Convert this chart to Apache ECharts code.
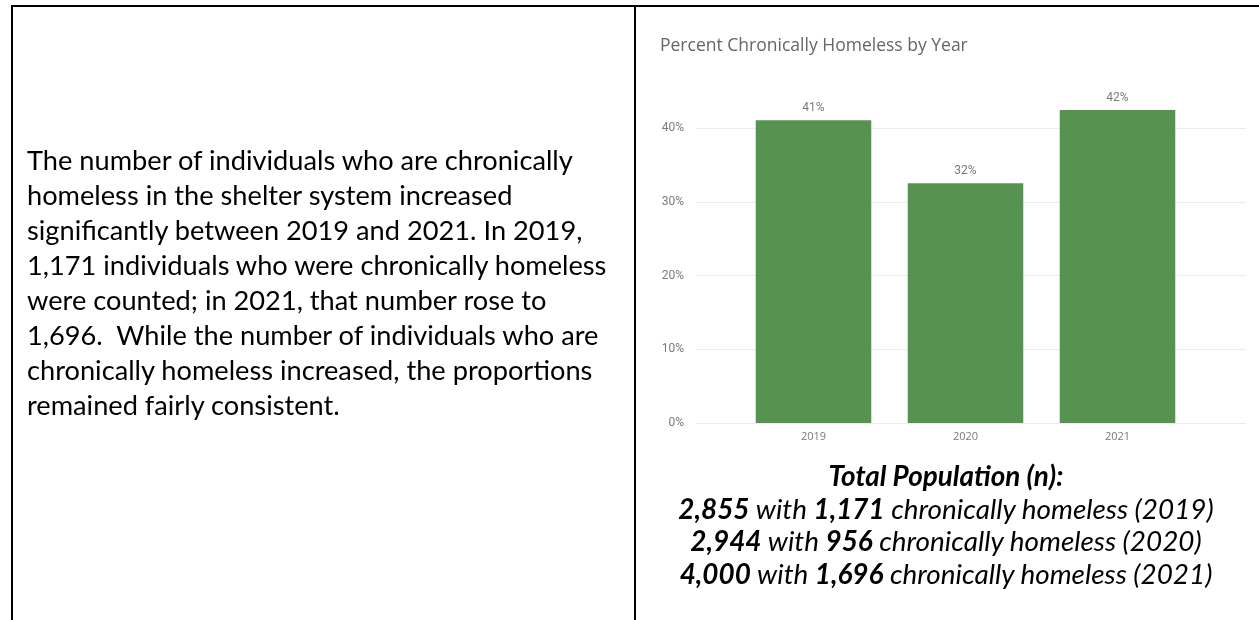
<!DOCTYPE html>
<html>
<head>
<meta charset="utf-8">
<script src="https://cdn.jsdelivr.net/npm/echarts@6/dist/echarts.min.js"></script>
<style>
  html, body { margin: 0; padding: 0; background: #fff; }
  #page { position: relative; width: 1259px; height: 620px; overflow: hidden; background: #fff; }
  #chart { position: absolute; left: 0; top: 0; width: 1259px; height: 620px; }
  .rule { position: absolute; background: #000; }
  #story { position: absolute; left: 27px; top: 142px; color: #000;
           font-family: Lato, "Open Sans", sans-serif; line-height: 35px; white-space: nowrap; }
  #caption { position: absolute; left: 636px; width: 620px; top: 459px; color: #000; text-align: center;
             font-family: Lato, "Open Sans", sans-serif; font-style: italic; line-height: 32.5px; white-space: nowrap; }
  #caption b { font-weight: 700; }
  .measure { display: inline-block; white-space: nowrap; }
</style>
</head>
<body>
<div id="page">
  <div id="chart"></div>
  <div class="rule" style="left:11px; top:5px; width:1248px; height:2px;"></div>
  <div class="rule" style="left:11px; top:5px; width:2px; height:615px;"></div>
  <div class="rule" style="left:634px; top:5px; width:2px; height:615px;"></div>
  <div id="story"></div>
  <div id="caption"></div>
</div>
<script>
// Shelter counts and share of individuals who are chronically homeless
const years = ['2019', '2020', '2021'];
const pctChronic = [41.02, 32.47, 42.40];
const totalPopulation = [2855, 2944, 4000];
const chronicCount = [1171, 956, 1696];

const chartTitle = 'Percent Chronically Homeless by Year';
const captionHeading = 'Total Population (n):';
const storyLines = [
  'The number of individuals who are chronically',
  'homeless in the shelter system increased',
  'significantly between 2019 and 2021. In 2019,',
  '1,171 individuals who were chronically homeless',
  'were counted; in 2021, that number rose to',
  '1,696.  While the number of individuals who are',
  'chronically homeless increased, the proportions',
  'remained fairly consistent.'
];

const fmt = n => n.toLocaleString('en-US');

// Size a block's font so that a sample element reaches the wanted width
function fitFont(sample, targetWidth) {
  sample.style.fontSize = '100px';
  const w = sample.getBoundingClientRect().width;
  return 100 * targetWidth / w;
}

// Font size that gives a canvas-drawn string the wanted width
function fitCanvasFont(text, family, targetWidth) {
  const ctx = document.createElement('canvas').getContext('2d');
  ctx.font = '100px ' + family;
  return 100 * targetWidth / ctx.measureText(text).width;
}

// Narrative text in the left cell
const story = document.getElementById('story');
storyLines.forEach(t => {
  const d = document.createElement('div');
  d.textContent = t.replace(/  /g, '\u00a0 ');
  story.appendChild(d);
});
const storySample = document.createElement('span');
storySample.className = 'measure';
storySample.textContent = storyLines[0];
story.appendChild(storySample);
const storySize = fitFont(storySample, 546);
story.removeChild(storySample);
story.style.fontSize = storySize + 'px';

// Population caption under the chart
const caption = document.getElementById('caption');
const head = document.createElement('div');
head.innerHTML = '<b>' + captionHeading + '</b>';
caption.appendChild(head);
const capLines = years.map((y, i) => {
  const d = document.createElement('div');
  d.innerHTML = '<b>' + fmt(totalPopulation[i]) + '</b> with <b>' + fmt(chronicCount[i]) +
                '</b> chronically homeless (' + y + ')';
  caption.appendChild(d);
  return d;
});
const capSample = document.createElement('span');
capSample.className = 'measure';
capSample.innerHTML = capLines[2].innerHTML;
caption.appendChild(capSample);
const capSize = fitFont(capSample, 533);
caption.removeChild(capSample);
caption.style.fontSize = capSize + 'px';

// Bar chart
const titleFamily = '"Open Sans", sans-serif';
const titleSize = fitCanvasFont(chartTitle, titleFamily, 308);
const chart = echarts.init(document.getElementById('chart'), null, { renderer: 'canvas' });
const grayText = '#7a7a7a';
const option = {
  animation: false,
  backgroundColor: 'transparent',
  title: {
    text: chartTitle,
    left: 660,
    top: 37,
    padding: 0,
    textStyle: { fontFamily: titleFamily, fontSize: titleSize, fontWeight: 'normal', color: '#666' }
  },
  grid: [
    // percentage gridlines 0–40%
    { left: 696, right: 13, top: 128, bottom: 197 },
    // bars, same vertical scale
    { left: 737.5, right: 65.5, top: 54, bottom: 197 }
  ],
  xAxis: [
    { gridIndex: 0, type: 'category', data: years, show: false },
    {
      gridIndex: 1, type: 'category', data: years,
      axisLine: { show: false }, axisTick: { show: false },
      axisLabel: { color: grayText, fontSize: 11, margin: 8, fontFamily: '"Open Sans", sans-serif' }
    }
  ],
  yAxis: [
    {
      gridIndex: 0, type: 'value', min: 0, max: 40, interval: 10,
      axisLine: { show: false }, axisTick: { show: false },
      axisLabel: { formatter: '{value}%', color: grayText, fontSize: 12, margin: 12, fontFamily: 'Roboto, sans-serif' },
      splitLine: { lineStyle: { color: '#ececec', width: 1 } }
    },
    { gridIndex: 1, type: 'value', min: 0, max: 50, show: false, splitLine: { show: false } }
  ],
  series: [{
    type: 'bar',
    xAxisIndex: 1,
    yAxisIndex: 1,
    data: pctChronic,
    barCategoryGap: '24%',
    itemStyle: { color: '#569350' },
    label: {
      show: true,
      position: 'top',
      distance: 6,
      color: grayText,
      fontSize: 12,
      fontFamily: 'Roboto, sans-serif',
      formatter: p => Math.round(p.value) + '%'
    }
  }]
};
chart.setOption(option);
</script>
</body>
</html>
